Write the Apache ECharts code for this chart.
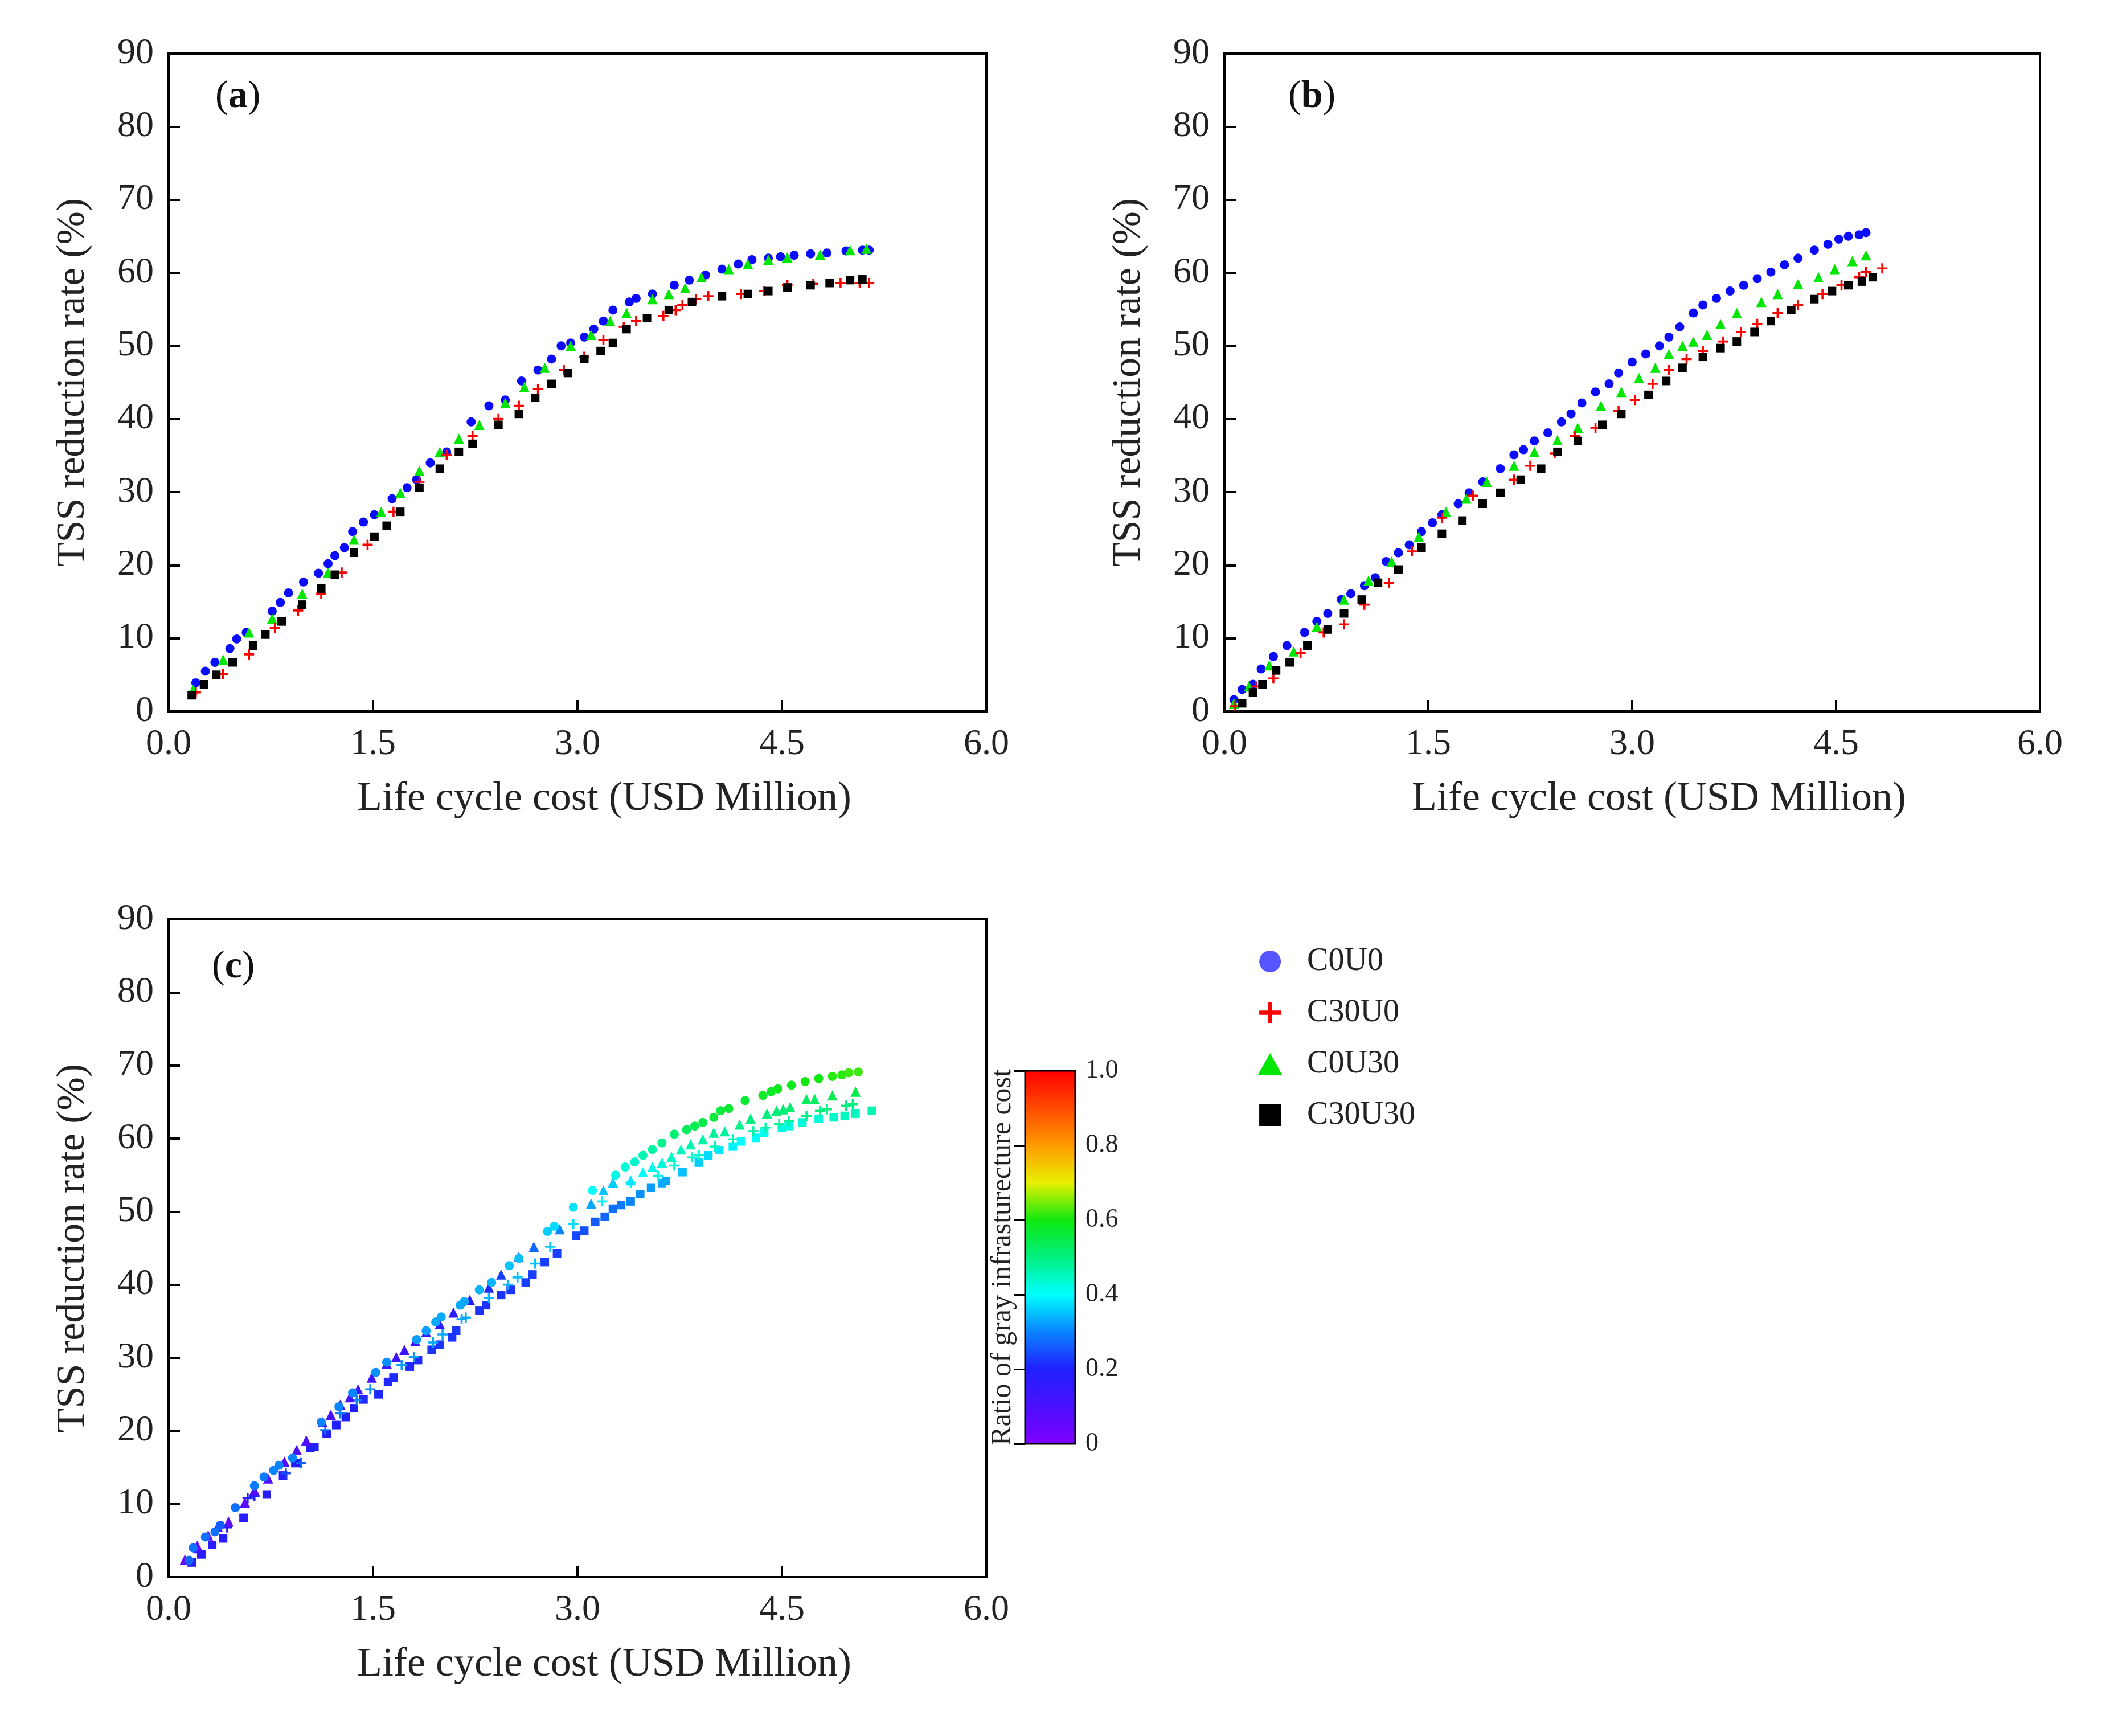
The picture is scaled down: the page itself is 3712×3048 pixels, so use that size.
<!DOCTYPE html>
<html>
<head>
<meta charset="utf-8">
<script src="https://cdn.jsdelivr.net/npm/echarts@6/dist/echarts.min.js"></script>
<style>
html,body{margin:0;padding:0;background:#fff;}
#main{width:3712px;height:3048px;}
</style>
</head>
<body>
<div id="main"></div>
<script>
// ---------- data ----------
const seriesNames = ['C0U0', 'C30U0', 'C0U30', 'C30U30'];
const xTicks = [0, 1.5, 3.0, 4.5, 6.0];

// Panel (a): [cost, TSS reduction]
const a_C0U0 = [[0.2,3.9],[0.27,5.5],[0.34,6.7],[0.45,8.6],[0.5,9.9],[0.57,10.8],[0.76,13.7],[0.82,14.9],[0.88,16.2],[0.99,17.7],[1.1,18.9],[1.17,20.2],[1.22,21.3],[1.29,22.4],[1.35,24.6],[1.43,25.9],[1.51,26.9],[1.64,29.1],[1.75,30.6],[1.82,31.7],[1.92,34],[2.04,35.5],[2.22,39.6],[2.35,41.8],[2.47,42.6],[2.59,45.2],[2.71,46.7],[2.81,48.2],[2.88,50],[2.95,50.4],[3.05,51.2],[3.12,52.3],[3.19,53.4],[3.26,54.9],[3.38,56],[3.43,56.5],[3.55,57.1],[3.71,58.3],[3.82,59],[3.94,59.7],[4.06,60.5],[4.18,61.2],[4.28,61.8],[4.4,62],[4.49,62.2],[4.59,62.4],[4.71,62.6],[4.83,62.7],[4.97,63],[5.09,63.1],[5.14,63.1]];
const a_C0U30 = [[0.18,3],[0.4,7.1],[0.59,10.8],[0.76,12.7],[0.98,16.1],[1.17,19],[1.36,23.5],[1.56,27.3],[1.7,29.9],[1.84,32.9],[1.99,35.5],[2.13,37.3],[2.28,39.2],[2.47,42.2],[2.61,44.4],[2.76,47],[2.95,50],[3.1,51.5],[3.24,53.4],[3.36,54.5],[3.55,56.4],[3.67,57.1],[3.79,57.9],[3.91,59.4],[4.11,60.5],[4.25,61.2],[4.4,61.8],[4.54,62.1],[4.78,62.5],[5.0,63.1],[5.12,63.3]];
const a_C30U0 = [[0.2,2.6],[0.4,5.1],[0.59,7.8],[0.78,11.4],[0.95,13.8],[1.12,16.1],[1.27,19],[1.46,22.8],[1.65,27.3],[1.84,31.4],[2.04,35.1],[2.23,37.7],[2.42,40],[2.57,41.8],[2.71,44.1],[2.9,46.7],[3.05,48.5],[3.19,50.8],[3.34,52.6],[3.43,53.4],[3.63,54.1],[3.72,54.9],[3.77,55.6],[3.87,56.4],[3.96,56.8],[4.2,57.1],[4.37,57.5],[4.54,58.3],[4.73,58.5],[4.93,58.6],[5.07,58.6],[5.14,58.6]];
const a_C30U30 = [[0.17,2.2],[0.26,3.7],[0.35,5],[0.47,6.7],[0.62,9],[0.71,10.5],[0.83,12.3],[0.98,14.6],[1.12,16.8],[1.22,18.7],[1.36,21.7],[1.51,23.9],[1.6,25.4],[1.7,27.3],[1.84,30.6],[1.99,33.2],[2.13,35.5],[2.23,36.6],[2.42,39.2],[2.57,40.7],[2.69,42.9],[2.81,44.8],[2.93,46.3],[3.05,48.2],[3.17,49.3],[3.26,50.4],[3.36,52.3],[3.51,53.8],[3.67,54.9],[3.84,56],[4.06,56.8],[4.25,57.1],[4.4,57.5],[4.54,58],[4.71,58.3],[4.85,58.6],[5.0,59],[5.09,59.1]];

// Panel (b)
const b_C0U0 = [[0.07,1.6],[0.13,3],[0.21,3.7],[0.27,5.8],[0.36,7.5],[0.46,9],[0.59,10.8],[0.68,12.3],[0.76,13.4],[0.86,15.3],[0.93,16.1],[1.03,17.2],[1.11,18.3],[1.19,20.5],[1.28,21.7],[1.36,22.8],[1.45,24.6],[1.53,25.8],[1.6,26.9],[1.72,28.4],[1.8,29.9],[1.9,31.4],[2.03,33.2],[2.13,35.1],[2.2,35.8],[2.28,37],[2.38,38.1],[2.48,39.6],[2.55,40.7],[2.63,42.2],[2.73,43.7],[2.83,44.8],[2.9,46.3],[3.0,47.8],[3.1,48.9],[3.2,50],[3.27,51.2],[3.35,52.6],[3.45,54.5],[3.52,55.6],[3.62,56.5],[3.72,57.5],[3.82,58.3],[3.92,59.2],[4.02,60.1],[4.12,61.1],[4.22,62],[4.34,63.1],[4.44,63.9],[4.52,64.6],[4.59,65],[4.67,65.2],[4.72,65.5]];
const b_C0U30 = [[0.07,1.1],[0.18,3.4],[0.33,6.3],[0.51,8.2],[0.68,11.6],[0.88,15.3],[1.06,17.9],[1.23,20.5],[1.43,23.9],[1.63,27.3],[1.78,29.1],[1.93,31.4],[2.13,33.6],[2.28,35.5],[2.45,37.1],[2.6,38.8],[2.77,41.8],[2.92,43.7],[3.05,45.6],[3.17,47],[3.27,48.9],[3.37,50],[3.45,50.6],[3.55,51.5],[3.65,53],[3.77,54.5],[3.95,56],[4.07,57.1],[4.22,58.5],[4.37,59.4],[4.49,60.5],[4.62,61.6],[4.72,62.4]];
const b_C30U0 = [[0.08,0.7],[0.23,3.4],[0.36,4.5],[0.56,8],[0.73,10.8],[0.88,11.9],[1.03,14.6],[1.21,17.6],[1.38,21.9],[1.6,26.5],[1.83,29.5],[2.13,31.7],[2.25,33.6],[2.43,35.3],[2.58,37.7],[2.73,38.8],[2.9,41.1],[3.02,42.6],[3.15,44.8],[3.27,46.7],[3.4,48.2],[3.52,49.3],[3.67,50.6],[3.8,51.9],[3.92,53],[4.07,54.5],[4.22,55.6],[4.4,57.1],[4.54,58.3],[4.67,59.4],[4.72,60.1],[4.84,60.6]];
const b_C30U30 = [[0.13,1.1],[0.21,2.6],[0.28,3.7],[0.38,5.6],[0.48,6.7],[0.61,9],[0.76,11.2],[0.88,13.4],[1.01,15.3],[1.13,17.6],[1.28,19.4],[1.45,22.4],[1.6,24.3],[1.75,26.1],[1.9,28.4],[2.03,29.9],[2.18,31.7],[2.33,33.2],[2.45,35.5],[2.6,37],[2.78,39.2],[2.92,40.7],[3.12,43.3],[3.25,45.2],[3.37,47],[3.52,48.5],[3.65,49.7],[3.77,50.6],[3.9,51.9],[4.02,53.4],[4.17,54.9],[4.34,56.4],[4.47,57.5],[4.59,58.3],[4.69,58.8],[4.77,59.4]];

// Panel (c): [cost, TSS reduction, ratio of gray infrastructure cost]
const c_C0U0 = [[0.15,2.3,0.27],[0.18,4,0.28],[0.27,5.5,0.28],[0.34,6.2,0.28],[0.38,7.1,0.26],[0.49,9.5,0.28],[0.63,12.5,0.29],[0.7,13.7,0.29],[0.77,14.6,0.3],[0.81,15.3,0.3],[0.91,16.3,0.3],[1.12,21.2,0.3],[1.25,23.3,0.3],[1.35,25.2,0.3],[1.52,28,0.31],[1.6,29.4,0.31],[1.82,32.5,0.32],[1.89,33.7,0.32],[1.96,34.9,0.33],[2.0,35.6,0.33],[2.14,37.2,0.33],[2.17,37.7,0.33],[2.28,39.3,0.34],[2.37,40.3,0.34],[2.5,42.6,0.35],[2.57,43.6,0.35],[2.78,47.3,0.36],[2.83,48,0.37],[2.97,50.6,0.38],[3.11,52.9,0.4],[3.28,55.0,0.42],[3.35,56.1,0.43],[3.42,56.8,0.44],[3.48,57.7,0.46],[3.55,58.5,0.47],[3.62,59.4,0.49],[3.71,60.6,0.51],[3.8,61.2,0.53],[3.86,61.7,0.54],[3.92,62.2,0.55],[4.0,62.9,0.56],[4.05,63.8,0.56],[4.11,64.1,0.57],[4.23,65.2,0.57],[4.36,65.9,0.58],[4.42,66.4,0.58],[4.47,66.8,0.59],[4.57,67.3,0.59],[4.67,67.8,0.6],[4.77,68.2,0.6],[4.87,68.5,0.61],[4.94,68.7,0.61],[4.99,69,0.62],[5.06,69.1,0.62]];
const c_C0U30 = [[0.12,2.4,0.05],[0.21,4.3,0.05],[0.29,5.7,0.05],[0.36,6.9,0.06],[0.44,7.6,0.06],[0.56,10.2,0.07],[0.63,11.9,0.07],[0.73,13.5,0.08],[0.85,15.8,0.08],[0.94,17.4,0.09],[1.01,18.7,0.09],[1.13,21.2,0.1],[1.19,22.2,0.1],[1.26,23.6,0.11],[1.33,24.6,0.11],[1.39,25.7,0.12],[1.49,27.3,0.12],[1.6,29.2,0.13],[1.67,30.1,0.13],[1.73,31.1,0.14],[1.81,32.3,0.14],[1.89,33.5,0.15],[1.99,34.6,0.16],[2.09,36.2,0.17],[2.21,37.9,0.19],[2.35,39.6,0.21],[2.44,41.4,0.23],[2.57,43.8,0.25],[2.68,45.2,0.27],[2.87,47.6,0.3],[3.1,51.1,0.33],[3.19,52.9,0.35],[3.26,54,0.36],[3.39,54.3,0.38],[3.48,55.4,0.4],[3.55,56.1,0.42],[3.62,56.7,0.43],[3.69,57.5,0.44],[3.76,58.5,0.45],[3.83,59.2,0.46],[3.92,59.9,0.47],[4.0,60.8,0.48],[4.08,61,0.48],[4.19,61.9,0.49],[4.27,62.7,0.5],[4.39,63.4,0.5],[4.46,63.8,0.51],[4.51,64,0.51],[4.56,64.3,0.52],[4.68,65.4,0.53],[4.74,65.4,0.53],[4.87,65.9,0.54],[5.04,66.4,0.55]];
const c_C30U0 = [[0.22,3.4,0.15],[0.43,6.8,0.17],[0.58,10.8,0.2],[0.63,11.1,0.2],[0.86,14.2,0.24],[0.97,15.6,0.26],[1.15,20.1,0.28],[1.26,22.4,0.29],[1.38,24.2,0.3],[1.48,25.7,0.31],[1.71,29,0.32],[1.8,30.1,0.32],[1.94,32.1,0.33],[2.01,33.2,0.33],[2.15,35.3,0.33],[2.18,35.5,0.33],[2.35,38.2,0.34],[2.49,40,0.34],[2.56,41,0.35],[2.69,42.9,0.35],[2.8,45.2,0.36],[2.97,48.3,0.37],[3.18,51.4,0.39],[3.39,54,0.41],[3.59,54.9,0.42],[3.71,56.3,0.43],[3.84,57.4,0.44],[3.89,57.7,0.44],[4.01,58.9,0.45],[4.14,59.9,0.46],[4.29,61,0.47],[4.38,61.5,0.47],[4.48,62,0.48],[4.55,62.4,0.48],[4.68,63.1,0.49],[4.78,63.8,0.5],[4.83,64,0.5],[4.97,64.5,0.5],[5.02,64.7,0.5]];
const c_C30U30 = [[0.17,2.0,0.17],[0.24,3.1,0.17],[0.32,4.4,0.17],[0.4,5.3,0.18],[0.55,8.1,0.18],[0.72,11.3,0.18],[0.84,13.9,0.19],[0.93,15.6,0.19],[1.04,17.7,0.2],[1.07,17.8,0.2],[1.16,19.6,0.2],[1.23,20.8,0.2],[1.3,21.9,0.2],[1.36,23.1,0.2],[1.43,24.3,0.21],[1.54,25,0.21],[1.61,26.7,0.21],[1.65,27.3,0.21],[1.77,28.8,0.21],[1.83,29.7,0.21],[1.93,31.1,0.22],[1.99,31.8,0.22],[2.08,32.8,0.22],[2.11,33.7,0.22],[2.28,36.5,0.22],[2.33,37.2,0.22],[2.44,38.6,0.22],[2.51,39.3,0.22],[2.62,40.3,0.23],[2.67,41.4,0.23],[2.76,43.1,0.23],[2.85,44.3,0.23],[2.99,46.7,0.24],[3.05,47.4,0.25],[3.13,48.6,0.26],[3.2,49.3,0.27],[3.26,50.4,0.28],[3.32,50.9,0.29],[3.39,51.4,0.3],[3.46,52.4,0.31],[3.54,53.3,0.32],[3.62,53.9,0.33],[3.65,54.2,0.33],[3.77,55.4,0.35],[3.89,56.7,0.36],[3.96,57.7,0.37],[4.04,58.4,0.38],[4.14,58.9,0.39],[4.2,59.6,0.4],[4.31,60.1,0.4],[4.37,60.8,0.41],[4.5,61.5,0.42],[4.55,61.7,0.42],[4.65,62.2,0.43],[4.77,62.7,0.43],[4.88,62.9,0.44],[4.96,63.1,0.45],[5.04,63.4,0.45],[5.16,63.8,0.46]];

const colorbarTicks = [0, 0.2, 0.4, 0.6, 0.8, 1.0];

// ---------- styles ----------
const FONT = 'Liberation Serif';
const TXT = '#222';
const PLUS = 'path://M4,0H6V4H10V6H6V10H4V6H0V4H4Z';
const TRI = 'path://M5,0L10,9H0Z';
const SQR = 'path://M0,0H10V10H0Z';
const symbols = {C0U0: 'circle', C30U0: PLUS, C0U30: TRI, C30U30: SQR};
const sizes = {C0U0: 16, C30U0: 18, C0U30: 18, C30U30: 15};
const colors = {C0U0: '#0a0aff', C30U0: '#ff0000', C0U30: '#00e600', C30U30: '#000000'};

const grids = [
  {left: 296, top: 94, width: 1436, height: 1155},
  {left: 2150, top: 94, width: 1432, height: 1155},
  {left: 296, top: 1614, width: 1436, height: 1155},
  {left: 1800, top: 1880, width: 88, height: 655, show: true, borderColor: '#000', borderWidth: 3, z: 10, backgroundColor: 'transparent'}
];
grids.slice(0,3).forEach(g => { g.show = true; g.borderColor = '#000'; g.borderWidth = 4; });

function xAx(i) {
  return {
    gridIndex: i, type: 'value', min: xTicks[0], max: xTicks[xTicks.length-1], interval: 1.5,
    axisLine: {show: true, onZero: false, lineStyle: {color: '#000', width: 4}},
    axisTick: {show: true, inside: true, length: 20, lineStyle: {color: '#000', width: 4}},
    splitLine: {show: false},
    axisLabel: {margin: 26, fontFamily: FONT, fontSize: 64, color: TXT, formatter: v => v.toFixed(1)},
    name: 'Life cycle cost (USD Million)', nameLocation: 'middle', nameGap: 118,
    nameTextStyle: {fontFamily: FONT, fontSize: 72, color: TXT, padding: [0, 0, 0, 94]}
  };
}
function yAx(i) {
  return {
    gridIndex: i, type: 'value', min: 0, max: 90, interval: 10,
    axisLine: {show: true, onZero: false, lineStyle: {color: '#000', width: 4}},
    axisTick: {show: true, inside: true, length: 20, lineStyle: {color: '#000', width: 4}},
    splitLine: {show: false},
    axisLabel: {margin: 26, fontFamily: FONT, fontSize: 64, color: TXT},
    name: 'TSS reduction rate (%)', nameLocation: 'middle', nameGap: 132,
    nameTextStyle: {fontFamily: FONT, fontSize: 70, color: TXT}
  };
}

const xAxes = [xAx(0), xAx(1), xAx(2),
  {gridIndex: 3, type: 'value', min: 0, max: 1, show: false}];
const yAxes = [yAx(0), yAx(1), yAx(2),
  {gridIndex: 3, type: 'value', position: 'right', min: colorbarTicks[0], max: colorbarTicks[colorbarTicks.length-1], interval: 0.2,
   axisLine: {show: true, lineStyle: {color: '#000', width: 3}},
   axisTick: {show: true, inside: true, length: 20, lineStyle: {color: '#000', width: 3}},
   splitLine: {show: false},
   axisLabel: {margin: 18, fontFamily: FONT, fontSize: 46, color: TXT,
     formatter: v => (v === 0 ? '0' : v.toFixed(1))}},
  {gridIndex: 3, type: 'value', position: 'left', min: 0, max: 1,
   axisLine: {show: false}, axisTick: {show: false}, axisLabel: {show: false}, splitLine: {show: false},
   name: 'Ratio of gray infrasturecture cost', nameLocation: 'middle', nameGap: 14,
   nameTextStyle: {fontFamily: FONT, fontSize: 50, color: TXT}}
];

const panelData = [
  {C0U0: a_C0U0, C0U30: a_C0U30, C30U0: a_C30U0, C30U30: a_C30U30},
  {C0U0: b_C0U0, C0U30: b_C0U30, C30U0: b_C30U0, C30U30: b_C30U30}
];
const drawOrder = ['C0U0', 'C0U30', 'C30U0', 'C30U30'];
const series = [];
panelData.forEach((pd, i) => {
  drawOrder.forEach(n => {
    series.push({
      name: n, type: 'scatter', xAxisIndex: i, yAxisIndex: i,
      symbol: symbols[n], symbolSize: sizes[n],
      itemStyle: {color: colors[n], opacity: 1},
      data: pd[n]
    });
  });
});
const cData = {C0U0: c_C0U0, C0U30: c_C0U30, C30U0: c_C30U0, C30U30: c_C30U30};
const cIdx = [];
['C30U30', 'C30U0', 'C0U30', 'C0U0'].forEach(n => {
  cIdx.push(series.length);
  series.push({
    name: n, type: 'scatter', xAxisIndex: 2, yAxisIndex: 2,
    symbol: symbols[n], symbolSize: sizes[n],
    itemStyle: {opacity: 1},
    data: cData[n]
  });
});

const panelTitle = (letter, left, top) => ({
  text: '{p|(}{b|' + letter + '}{p|)}', left: left, top: top, padding: 0,
  textStyle: {rich: {
    p: {fontFamily: FONT, fontSize: 68, fontWeight: 'normal', color: '#111'},
    b: {fontFamily: FONT, fontSize: 68, fontWeight: 'bold', color: '#111'}
  }}
});

const option = {
  backgroundColor: '#fff',
  animation: false,
  title: [panelTitle('a', 378, 136), panelTitle('b', 2262, 136), panelTitle('c', 372, 1664)],
  grid: grids,
  xAxis: xAxes,
  yAxis: yAxes,
  legend: {
    orient: 'vertical', left: 2209, top: 1660, padding: 0,
    itemWidth: 120, itemHeight: 38, itemGap: 34,
    textStyle: {fontFamily: FONT, fontSize: 56, color: TXT, lineHeight: 56},
    data: [
      {name: 'C0U0', icon: 'circle', itemStyle: {color: '#5555ff'}},
      {name: 'C30U0', icon: PLUS, itemStyle: {color: '#ff0000'}},
      {name: 'C0U30', icon: TRI, itemStyle: {color: '#00e600'}},
      {name: 'C30U30', icon: 'path://M1,1H9V9H1Z', itemStyle: {color: '#000000'}}
    ]
  },
  visualMap: {
    type: 'continuous', min: 0, max: 1, dimension: 2, seriesIndex: cIdx,
    left: 1800, top: 1880, itemWidth: 88, itemHeight: 655, padding: 0,
    calculable: false, hoverLink: false, showLabel: false, text: null,
    inRange: {color: ['#8000ff', '#4a10ff', '#2020ff', '#0a84ff', '#00ffff', '#00f080', '#10e810', '#e8f000', '#ff9a00', '#ff4a00', '#ff0000']}
  },
  series: series
};

const chart = echarts.init(document.getElementById('main'), null, {renderer: 'canvas'});
chart.setOption(option);
</script>
</body>
</html>
